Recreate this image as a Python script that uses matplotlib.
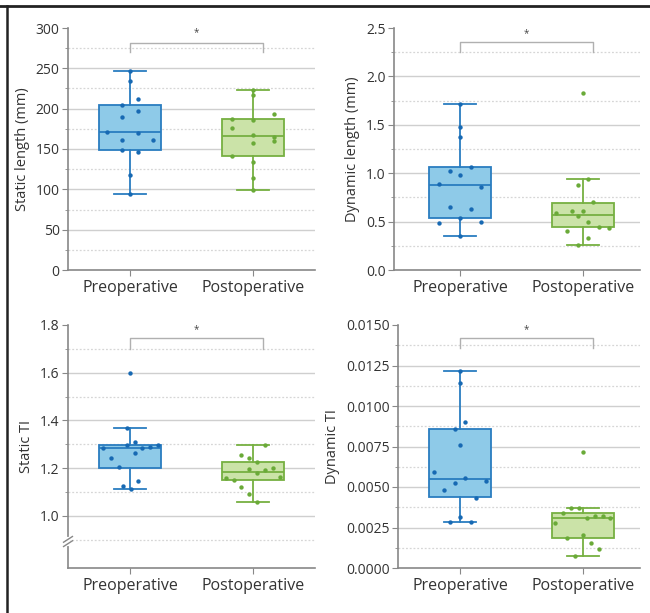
import matplotlib.pyplot as plt
from matplotlib.lines import Line2D
import numpy as np

plt.rcParams['font.family'] = ['Open Sans', 'DejaVu Sans']

groups = ['Preoperative', 'Postoperative']

# Static length (mm)
sl_pre = [246.7, 234, 212.2, 204.8, 196.6, 190, 171.5, 169.4, 160.8, 161.6, 149, 146.8, 117.7, 94.6]
sl_pre_jit = [0, 0, 0.065, -0.062, 0.065, -0.062, -0.19, 0.065, -0.062, 0.19, -0.062, 0.065, 0, 0]
sl_post = [223.3, 217.5, 193.3, 187.5, 185.9, 176, 167, 165.3, 160, 157.5, 141.5, 134.1, 114.4, 99.6]
sl_post_jit = [0, 0, 0.173, -0.168, 0, -0.168, 0, 0.173, 0.173, 0, -0.168, 0, 0, 0]
sl_box = [(149.3, 170.7, 204.4, 94.6, 246.7), (141.5, 166.2, 187.1, 99.6, 223.3)]

# Dynamic length (mm)
dl_pre = [1.719, 1.473, 1.377, 1.068, 1.021, 0.986, 0.887, 0.860, 0.651, 0.634, 0.538, 0.490, 0.497, 0.356]
dl_pre_jit = [0, 0, 0, 0.087, -0.084, 0, -0.171, 0.171, -0.084, 0.087, 0, -0.171, 0.171, 0]
dl_post = [1.832, 0.942, 0.880, 0.702, 0.592, 0.610, 0.613, 0.555, 0.500, 0.442, 0.436, 0.408, 0.329, 0.260]
dl_post_jit = [0, 0.041, -0.043, 0.084, -0.217, -0.087, 0, -0.043, 0.041, 0.127, 0.214, -0.13, 0.041, -0.043]
dl_box = [(0.534, 0.877, 1.065, 0.356, 1.719), (0.445, 0.572, 0.695, 0.260, 0.942)]

# Static TI
st_pre = [1.6, 1.367, 1.308, 1.299, 1.299, 1.283, 1.283, 1.288, 1.263, 1.244, 1.204, 1.148, 1.127, 1.114]
st_pre_jit = [0, -0.027, 0.038, -0.027, 0.225, -0.22, 0.098, 0.163, 0.038, -0.157, -0.092, 0.068, -0.06, 0.005]
st_post = [1.299, 1.254, 1.243, 1.226, 1.196, 1.2, 1.192, 1.178, 1.164, 1.157, 1.150, 1.121, 1.091, 1.059]
st_post_jit = [0.1, -0.095, -0.033, 0.033, -0.033, 0.163, 0.098, 0.033, 0.222, -0.222, -0.157, -0.095, -0.033, 0.033]
st_box = [(1.203, 1.283, 1.299, 1.114, 1.367), (1.150, 1.185, 1.226, 1.059, 1.299)]

# Dynamic TI
dt_pre = [0.01213, 0.01143, 0.00901, 0.00858, 0.00761, 0.00591, 0.00554, 0.00535, 0.00523, 0.00482, 0.00433, 0.00316, 0.00285, 0.00283]
dt_pre_jit = [0, 0, 0.043, -0.041, 0, -0.211, 0.043, 0.214, -0.041, -0.127, 0.127, 0, -0.084, 0.087]
dt_post = [0.00718, 0.00371, 0.00369, 0.00342, 0.00324, 0.00318, 0.00307, 0.00306, 0.00279, 0.00201, 0.00184, 0.00157, 0.00120, 0.00075]
dt_post_jit = [0, -0.095, -0.033, -0.16, 0.095, 0.16, 0.033, 0.222, -0.225, 0, -0.127, 0.062, 0.127, -0.065]
dt_box = [(0.00437, 0.00548, 0.00858, 0.00285, 0.01213), (0.00184, 0.00307, 0.00342, 0.00075, 0.00371)]

edge_cols = ['#2a7dc0', '#76b041']
fill_cols = ['#8ecae8', '#cbe3a8']
dot_cols = ['#1769b3', '#6aaa38']

panels = [
    dict(rect=[68, 28, 315, 270], xlim=(-0.504, 1.504), ylim=(0, 300), major=50, label='Static length (mm)',
         fmt='{:.0f}', data=(sl_pre, sl_pre_jit, sl_post, sl_post_jit), box=sl_box, br=(270, 282, 294)),
    dict(rect=[394, 28, 640, 270], xlim=(-0.537, 1.463), ylim=(0, 2.5), major=0.5, label='Dynamic length (mm)',
         fmt='{:.1f}', data=(dl_pre, dl_pre_jit, dl_post, dl_post_jit), box=dl_box, br=(2.255, 2.36, 2.445)),
    dict(rect=[68, 325, 315, 568], xlim=(-0.504, 1.504), ylim=(0.782, 1.8), major=0.2, label='Static TI',
         fmt='{:.1f}', data=(st_pre, st_pre_jit, st_post, st_post_jit), box=st_box, br=(1.70, 1.744, 1.78),
         tick_start=1.0),
    dict(rect=[398, 325, 640, 568], xlim=(-0.504, 1.463), ylim=(0, 0.015), major=0.0025, label='Dynamic TI',
         fmt='{:.4f}', data=(dt_pre, dt_pre_jit, dt_post, dt_post_jit), box=dt_box, br=(0.0136, 0.01418, 0.0147)),
]

W, H = 650, 613
fig = plt.figure(figsize=(W / 100, H / 100), dpi=100)

for p in panels:
    l, t, r, b = p['rect']
    ax = fig.add_axes([l / W, 1 - b / H, (r - l) / W, (b - t) / H])
    ax.set_xlim(*p['xlim'])
    ax.set_ylim(*p['ylim'])
    lo, hi = p['ylim']
    step = p['major']
    start = p.get('tick_start', lo)
    majors = np.arange(start, hi + step / 2, step)
    minors = np.arange(start - step / 2, hi, step)
    minors = minors[minors > lo]

    # grid lines
    for v in majors[1:-1] if start == lo else majors[:-1]:
        ax.axhline(v, color='#cfcfcf', lw=1.0, zorder=0)
    for v in minors:
        ax.axhline(v, color='#d6d6d6', lw=0.9, ls=(0, (1.5, 1.5)), zorder=0)

    # boxes
    stats = []
    for q1, med, q3, lo_w, hi_w in p['box']:
        stats.append(dict(q1=q1, med=med, q3=q3, whislo=lo_w, whishi=hi_w, fliers=[]))
    for i, s in enumerate(stats):
        ax.bxp([s], positions=[i], widths=0.51, showfliers=False, patch_artist=True,
               boxprops=dict(facecolor=fill_cols[i], edgecolor=edge_cols[i], lw=1.3),
               medianprops=dict(color=edge_cols[i], lw=1.3),
               whiskerprops=dict(color=edge_cols[i], lw=1.3),
               capprops=dict(color=edge_cols[i], lw=1.3), capwidths=0.26,
               manage_ticks=False, zorder=2)

    pre, pre_j, post, post_j = p['data']
    ax.scatter(np.array(pre_j), pre, s=10, color=dot_cols[0], zorder=3, lw=0)
    ax.scatter(1 + np.array(post_j), post, s=10, color=dot_cols[1], zorder=3, lw=0)

    # significance bracket
    y0, y1, ys = p['br']
    ax.plot([0, 0, 1.08, 1.08], [y0, y1, y1, y0], color='#b0b0b0', lw=1.0, clip_on=False)
    ax.text(0.54, ys, '*', ha='center', va='center', fontsize=7, color='#444444')

    ax.set_xticks([0, 1])
    ax.set_xticklabels(groups, fontsize=11.5, color='#333333')
    ax.set_yticks(majors)
    ax.set_yticklabels([p['fmt'].format(v) for v in majors], fontsize=10, color='#333333')
    ax.set_yticks(minors, minor=True)
    ax.tick_params(axis='y', which='major', length=4, color='#888888', pad=2)
    ax.tick_params(axis='y', which='minor', length=2, color='#888888')
    ax.tick_params(axis='x', length=4, color='#888888', pad=3)
    ax.set_ylabel(p['label'], fontsize=10.5, color='#333333', labelpad=4)
    for side in ['top', 'right']:
        ax.spines[side].set_visible(False)
    for side in ['left', 'bottom']:
        ax.spines[side].set_color('#888888')
        ax.spines[side].set_linewidth(1.2)

    if 'tick_start' in p:
        # axis break marks on the left spine
        yb = 0.893
        trans = ax.get_yaxis_transform()
        ax.plot([0, 0], [yb - 0.01, yb + 0.01], color='white', lw=3, transform=trans, clip_on=False, zorder=5)
        for dy in (-0.009, 0.009):
            ax.plot([-0.018, 0.018], [yb + dy - 0.012, yb + dy + 0.012], color='#888888', lw=1.0,
                    transform=trans, clip_on=False, zorder=6)

# outer frame (top and left)
fig.add_artist(Line2D([0, 1], [1 - 5.5 / H, 1 - 5.5 / H], color='#222222', lw=2, transform=fig.transFigure))
fig.add_artist(Line2D([6.5 / W, 6.5 / W], [0, 1 - 5.5 / H], color='#222222', lw=1.8, transform=fig.transFigure))

fig.savefig('out.png', dpi=100, facecolor='white')
